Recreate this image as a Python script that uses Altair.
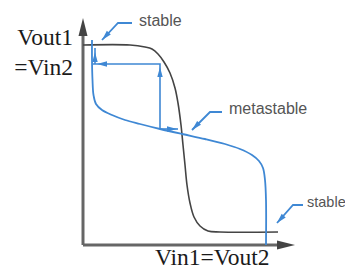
import altair as alt
import pandas as pd

# Transfer curves, normalised so that Vdd = 1
black_x = [0.0, 0.235, 0.31, 0.345, 0.375, 0.405, 0.435, 0.46, 0.475, 0.49, 0.50, 0.51,
           0.52, 0.535, 0.555, 0.585, 0.625, 0.685, 0.975]
black_y = [1.0, 1.0, 0.99, 0.98, 0.955, 0.915, 0.86, 0.785, 0.71, 0.60, 0.50, 0.40,
           0.30, 0.21, 0.14, 0.095, 0.07, 0.065, 0.065]

blue_x = [0.045, 0.045, 0.0475, 0.0525, 0.065, 0.095, 0.145, 0.21, 0.285, 0.385, 0.495,
          0.61, 0.71, 0.785, 0.845, 0.88, 0.90, 0.91, 0.915, 0.915]
blue_y = [1.025, 0.925, 0.825, 0.75, 0.705, 0.675, 0.65, 0.625, 0.605, 0.58, 0.555,
          0.53, 0.505, 0.48, 0.45, 0.42, 0.385, 0.325, 0.225, 0.0]

# Trajectory (blue arrows) polylines
traj_seg = [0, 0, 0, 1, 1, 2, 2]
traj_x = [0.385, 0.385, 0.05, 0.06, 0.06, 0.385, 0.475]
traj_y = [0.58, 0.905, 0.905, 0.905, 0.985, 0.58, 0.58]
traj_head_x = [0.385, 0.07, 0.06, 0.47]
traj_head_y = [0.89, 0.905, 0.965, 0.58]
traj_head_angle = [0, 270, 0, 90]

# Callouts
call_seg = [0, 0, 0, 1, 1, 1, 2, 2, 2]
call_x = [0.245, 0.175, 0.095, 0.695, 0.635, 0.545, 1.10, 1.05, 0.97]
call_y = [1.11, 1.11, 1.025, 0.665, 0.665, 0.575, 0.20, 0.20, 0.11]
call_head_x = [0.095, 0.545, 0.97]
call_head_y = [1.025, 0.575, 0.11]
call_head_angle = [223, 225, 222]
call_text = ["stable", "metastable", "stable"]
call_text_x = [0.28, 0.73, 1.12]
call_text_y = [1.12, 0.68, 0.21]
call_text_size = [16, 16, 14.5]

# Axis labels
ylab_text = ["Vout1", "=Vin2"]
ylab_x = [-0.05, -0.05]
ylab_y = [1.0, 0.85]
xlab_text = ["Vin1=Vout2"]
xlab_x = [0.36]
xlab_y = [-0.1]

# Axes (arrows)
axis_seg = [0, 0, 1, 1]
axis_x = [0.0, 0.0, 0.0, 1.0]
axis_y = [0.0, 1.07, 0.0, 0.0]
axis_head_x = [0.0, 1.06]
axis_head_y = [1.135, 0.0]
axis_head_angle = [0, 90]

BLUE = "#3f88d4"
GRAY = "#555555"
XS = alt.Scale(domain=[0, 1.085], nice=False, zero=False)
YS = alt.Scale(domain=[0, 1.15], nice=False, zero=False)
ARROW = "M0,0L0.27,1L-0.27,1Z"
AXARROW = "M0,0L0.25,1L-0.25,1Z"


def xy(x="x", y="y"):
    return dict(x=alt.X(f"{x}:Q", scale=XS, axis=None),
                y=alt.Y(f"{y}:Q", scale=YS, axis=None))


def poly(xs, ys, segs=None):
    segs = segs if segs is not None else [0] * len(xs)
    return pd.DataFrame({"x": xs, "y": ys, "seg": segs, "o": list(range(len(xs)))})


axes_line = alt.Chart(poly(axis_x, axis_y, axis_seg)).mark_line(
    color="#666666", strokeWidth=3).encode(**xy(), detail="seg:N", order="o:Q")
axes_head = alt.Chart(pd.DataFrame({"x": axis_head_x, "y": axis_head_y, "a": axis_head_angle})).mark_point(
    shape=AXARROW, filled=True, color="#444444", opacity=1, size=1296).encode(
    **xy(), angle=alt.Angle("a:Q", scale=None))

black_line = alt.Chart(poly(black_x, black_y)).mark_line(
    color="#444444", strokeWidth=1.6, interpolate="catmull-rom").encode(**xy(), order="o:Q")
blue_line = alt.Chart(poly(blue_x, blue_y)).mark_line(
    color=BLUE, strokeWidth=1.8, interpolate="catmull-rom").encode(**xy(), order="o:Q")

traj_line = alt.Chart(poly(traj_x, traj_y, traj_seg)).mark_line(
    color=BLUE, strokeWidth=1.6).encode(**xy(), detail="seg:N", order="o:Q")
traj_head = alt.Chart(pd.DataFrame({"x": traj_head_x, "y": traj_head_y, "a": traj_head_angle})).mark_point(
    shape=ARROW, filled=True, color=BLUE, opacity=1, size=400).encode(
    **xy(), angle=alt.Angle("a:Q", scale=None))

call_line = alt.Chart(poly(call_x, call_y, call_seg)).mark_line(
    color=BLUE, strokeWidth=1.8).encode(**xy(), detail="seg:N", order="o:Q")
call_head = alt.Chart(pd.DataFrame({"x": call_head_x, "y": call_head_y, "a": call_head_angle})).mark_point(
    shape=ARROW, filled=True, color=BLUE, opacity=1, size=400).encode(
    **xy(), angle=alt.Angle("a:Q", scale=None))
call_lab = alt.Chart(pd.DataFrame({"x": call_text_x, "y": call_text_y, "t": call_text,
                                   "s": call_text_size})).mark_text(
    font="Liberation Sans", color=GRAY, align="left", baseline="middle").encode(
    **xy(), text="t:N", size=alt.Size("s:Q", scale=None))

ylab = alt.Chart(pd.DataFrame({"x": ylab_x, "y": ylab_y, "t": ylab_text})).mark_text(
    font="Liberation Serif", fontSize=23.5, color="#1a1a1a", align="right", baseline="alphabetic").encode(
    **xy(), text="t:N")
xlab = alt.Chart(pd.DataFrame({"x": xlab_x, "y": xlab_y, "t": xlab_text})).mark_text(
    font="Liberation Serif", fontSize=23.5, color="#1a1a1a", align="left", baseline="alphabetic").encode(
    **xy(), text="t:N")

chart = alt.layer(
    axes_line, axes_head, black_line, blue_line, traj_line, traj_head,
    call_line, call_head, call_lab, ylab, xlab
).properties(
    width=217, height=230,
    autosize=alt.AutoSizeParams(type="none"),
    padding={"left": 75, "top": 7, "right": 45, "bottom": 24},
).configure_view(strokeWidth=0)

chart.save("out.html", embed_options={"renderer": "svg", "actions": False})
